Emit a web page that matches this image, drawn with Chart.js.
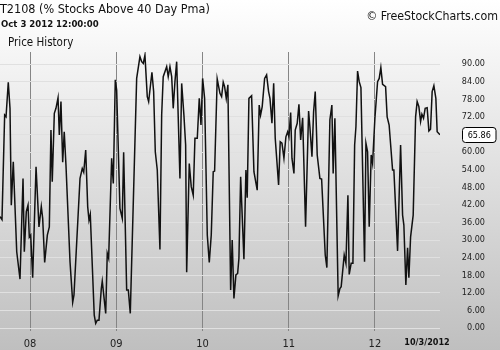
<!DOCTYPE html>
<html>
<head>
<meta charset="utf-8">
<script src="https://cdn.jsdelivr.net/npm/chart.js@4"></script>
<style>
  html, body { margin: 0; padding: 0; background: #fff; }
  #wrap { width: 500px; height: 350px; }
</style>
</head>
<body>
<div id="wrap"><canvas id="t2108Chart" width="500" height="350"></canvas></div>
<script>
// ---------------- 데이터 (picture read-off) ----------------
// dates as decimal years, values = T2108 %
const dates = [
  2007.652, 2007.675, 2007.706, 2007.722, 2007.748, 2007.768, 2007.783, 2007.806, 2007.846, 2007.884,
  2007.919, 2007.934, 2007.957, 2007.977, 2007.992, 2008.008, 2008.031, 2008.070, 2008.104, 2008.131,
  2008.147, 2008.170, 2008.201, 2008.224, 2008.243, 2008.258, 2008.282, 2008.301, 2008.325, 2008.340,
  2008.359, 2008.379, 2008.397, 2008.417, 2008.464, 2008.495, 2008.510, 2008.580, 2008.606, 2008.623,
  2008.646, 2008.669, 2008.684, 2008.699, 2008.745, 2008.762, 2008.780, 2008.800, 2008.827, 2008.838,
  2008.878, 2008.896, 2008.912, 2008.947, 2008.966, 2008.989, 2009.005, 2009.043, 2009.070, 2009.086,
  2009.121, 2009.140, 2009.163, 2009.237, 2009.275, 2009.295, 2009.314, 2009.333, 2009.360, 2009.376,
  2009.414, 2009.434, 2009.453, 2009.476, 2009.507, 2009.527, 2009.545, 2009.585, 2009.603, 2009.623,
  2009.643, 2009.661, 2009.681, 2009.701, 2009.739, 2009.759, 2009.785, 2009.805, 2009.817, 2009.847,
  2009.870, 2009.893, 2009.913, 2009.940, 2009.963, 2009.983, 2010.002, 2010.025, 2010.056, 2010.079,
  2010.102, 2010.125, 2010.141, 2010.171, 2010.203, 2010.222, 2010.241, 2010.257, 2010.276, 2010.295,
  2010.327, 2010.345, 2010.365, 2010.388, 2010.408, 2010.423, 2010.443, 2010.481, 2010.504, 2010.519,
  2010.539, 2010.570, 2010.597, 2010.635, 2010.658, 2010.674, 2010.693, 2010.721, 2010.744, 2010.767,
  2010.783, 2010.806, 2010.826, 2010.844, 2010.883, 2010.902, 2010.922, 2010.945, 2010.968, 2010.988,
  2011.003, 2011.023, 2011.038, 2011.061, 2011.076, 2011.099, 2011.119, 2011.139, 2011.162, 2011.196,
  2011.231, 2011.246, 2011.270, 2011.289, 2011.308, 2011.331, 2011.362, 2011.382, 2011.424, 2011.443,
  2011.478, 2011.501, 2011.516, 2011.536, 2011.574, 2011.594, 2011.609, 2011.644, 2011.664, 2011.687,
  2011.702, 2011.725, 2011.745, 2011.765, 2011.780, 2011.799, 2011.818, 2011.838, 2011.880, 2011.896,
  2011.915, 2011.934, 2011.957, 2011.973, 2012.000, 2012.031, 2012.050, 2012.069, 2012.089, 2012.124,
  2012.142, 2012.165, 2012.205, 2012.220, 2012.263, 2012.298, 2012.321, 2012.336, 2012.359, 2012.379,
  2012.394, 2012.414, 2012.444, 2012.472, 2012.490, 2012.510, 2012.530, 2012.545, 2012.564, 2012.583,
  2012.606, 2012.626, 2012.645, 2012.664, 2012.684, 2012.707, 2012.722, 2012.755
];
const t2108 = [
  38.0, 37.0, 72.6, 72.0, 83.8, 74.9, 41.9, 56.7, 26.0, 16.7,
  51.0, 26.0, 39.7, 41.9, 31.0, 31.7, 17.2, 55.0, 34.5, 41.4,
  37.4, 22.4, 31.7, 34.5, 67.5, 49.9, 73.2, 74.9, 78.5, 65.8,
  77.2, 56.5, 66.9, 55.6, 22.6, 8.8, 11.3, 51.0, 54.4, 53.1,
  60.7, 41.4, 36.8, 38.8, 4.4, 1.6, 2.7, 2.7, 13.5, 16.0,
  5.0, 25.5, 23.8, 57.9, 49.3, 84.6, 81.1, 40.8, 37.4, 59.9,
  13.0, 13.0, 5.0, 85.1, 92.5, 90.8, 90.2, 93.0, 78.9, 77.2,
  87.2, 80.6, 60.1, 53.9, 26.8, 72.6, 85.7, 89.1, 85.7, 89.1,
  85.7, 74.9, 84.0, 90.8, 51.0, 83.4, 72.6, 62.4, 19.0, 56.1,
  48.2, 45.3, 64.7, 64.7, 78.3, 69.2, 85.1, 78.3, 31.7, 22.4,
  31.7, 53.3, 53.5, 84.9, 80.0, 78.9, 83.8, 82.3, 78.3, 82.9,
  13.0, 30.0, 10.1, 18.1, 18.6, 23.8, 51.6, 23.5, 53.9, 44.4,
  78.3, 79.2, 53.3, 47.0, 76.0, 72.6, 75.5, 85.1, 86.3, 80.6,
  78.3, 69.8, 83.4, 64.7, 48.8, 63.5, 63.0, 57.9, 65.2, 66.9,
  65.2, 73.5, 57.9, 52.7, 67.5, 69.8, 76.3, 64.1, 71.7, 34.5,
  74.0, 68.6, 58.4, 73.7, 80.6, 59.0, 51.0, 50.8, 24.9, 20.6,
  71.0, 76.0, 52.7, 71.5, 11.0, 13.5, 14.1, 24.9, 22.1, 45.3,
  18.3, 22.1, 22.1, 62.4, 68.6, 87.6, 84.0, 82.0, 22.6, 63.0,
  60.1, 34.5, 59.0, 56.1, 71.5, 84.0, 85.1, 88.8, 83.1, 82.3,
  72.0, 69.2, 53.9, 53.9, 26.3, 62.4, 38.5, 35.1, 14.7, 27.4,
  17.2, 31.1, 38.5, 72.0, 77.2, 75.5, 70.4, 72.9, 71.5, 74.9,
  75.1, 67.2, 67.8, 80.6, 82.6, 78.3, 66.9, 65.86
];
const yearTicks = [2008, 2009, 2010, 2011, 2012];
const valueTicks = [0, 6, 12, 18, 24, 30, 36, 42, 48, 54, 60, 66, 72, 78, 84, 90];
const lastLabel = "65.86";
const lastDate = "10/3/2012";

const FONT = "'DejaVu Sans Condensed', 'DejaVu Sans', sans-serif";

// ---------------- 플러그인 : 배경 + 글자 ----------------
const bgPlugin = {
  id: "bgGradient",
  beforeDraw(chart) {
    const c = chart.ctx;
    const g = c.createLinearGradient(0, 0, 0, chart.height);
    g.addColorStop(0, "#ffffff");
    g.addColorStop(1, "#bfbfbf");
    c.save();
    c.fillStyle = g;
    c.fillRect(0, 0, chart.width, chart.height);
    c.restore();
  },
};

const textPlugin = {
  id: "headerText",
  afterDraw(chart) {
    const c = chart.ctx;
    const { scales } = chart;
    c.save();
    c.fillStyle = "#111";
    c.textBaseline = "middle";
    c.textAlign = "left";
    c.font = "12.5px " + FONT;
    c.fillText("T2108 (% Stocks Above 40 Day Pma)", 0, 10);
    c.font = "bold 9.5px " + FONT;
    c.fillText("Oct 3 2012 12:00:00", 1, 25);
    c.font = "11.5px " + FONT;
    c.fillText("Price History", 8, 43);
    c.textAlign = "right";
    c.font = "12.3px " + FONT;
    c.fillText("\u00a9 FreeStockCharts.com", 498, 17);

    // last date under axis
    c.font = "bold 9px " + FONT;
    c.textAlign = "center";
    c.fillText(lastDate, 427, 343);

    // current value box
    const y = scales.y.getPixelForValue(t2108[t2108.length - 1]);
    const bx = 462.5, bw = 33.5, bh = 15;
    c.beginPath();
    c.roundRect(bx, Math.round(y) - 7.5, bw, bh, 3);
    c.fillStyle = "#ffffff";
    c.fill();
    c.lineWidth = 1;
    c.strokeStyle = "#000";
    c.stroke();
    c.fillStyle = "#000";
    c.font = "9px " + FONT;
    c.textAlign = "center";
    c.fillText(lastLabel, bx + bw / 2, Math.round(y) + 0.5);
    c.restore();
  },
};

// ---------------- 선 차트 ----------------
const config = {
  type: "line",
  data: {
    datasets: [
      {
        label: "T2108",
        data: dates.map((d, i) => ({ x: d, y: t2108[i] })),
        borderColor: "#111111",
        borderWidth: 1.5,
        pointRadius: 0,
        tension: 0,
        fill: false,
      },
    ],
  },
  options: {
    responsive: false,
    animation: false,
    devicePixelRatio: 1,
    layout: { padding: { top: 52, right: 15, left: 0, bottom: 0 } },
    plugins: {
      legend: { display: false },
      tooltip: { enabled: false },
    },
    scales: {
      x: {
        type: "linear",
        min: 2007.652,
        max: 2012.755,
        afterBuildTicks: (s) => { s.ticks = yearTicks.map((v) => ({ value: v })); },
        afterFit: (s) => { s.height = 19; },
        grid: { color: "#858585", lineWidth: 1, drawTicks: false },
        border: { display: false },
        ticks: {
          padding: 7,
          color: "#222",
          font: { family: FONT, size: 11 },
          callback: (v) => String(v).slice(2),
          maxRotation: 0,
        },
      },
      y: {
        position: "right",
        min: -1,
        max: 94.1,
        afterBuildTicks: (s) => { s.ticks = valueTicks.map((v) => ({ value: v })); },
        afterFit: (s) => { s.width = 45; },
        grid: { color: "#e0e0e0", lineWidth: 1, drawTicks: false },
        border: { display: false },
        ticks: {
          crossAlign: "far",
          color: "#222",
          font: { family: FONT, size: 9 },
          callback: (v) => (v === 66 ? "" : v.toFixed(2)),
        },
      },
    },
  },
  plugins: [bgPlugin, textPlugin],
};
new Chart(document.getElementById("t2108Chart"), config);
</script>
</body>
</html>
